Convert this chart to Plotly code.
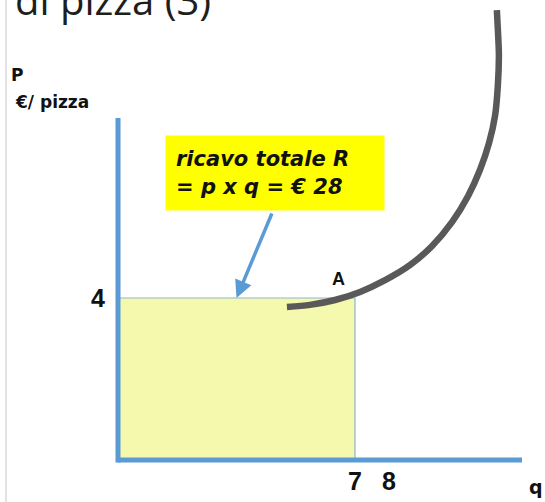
import plotly.graph_objects as go

# Price and quantity at point A
PRICE = 4
Q_SOLD = 7
REVENUE = PRICE * Q_SOLD

# Axis tick values
Q_TICKS = [7, 8]
P_TICKS = [4]

# Curve through point A (q, p)
CURVE_Q = [4.99, 5.67, 6.41, 7.15, 7.89, 8.62, 9.27, 9.87, 10.34, 10.69, 10.96, 11.14,
           11.22, 11.25, 11.22, 11.19]
CURVE_P = [3.78, 3.83, 3.95, 4.15, 4.44, 4.81, 5.28, 5.88, 6.52, 7.16, 7.83, 8.52,
           9.26, 10.00, 10.62, 11.11]

# Canvas and scale setup
W, H = 545, 502
ML, MB = 114, 38
PW, PH = W - ML, H - MB
ORIGIN_X, ORIGIN_Y = 118, 460          # pixel position of (0, 0)
Q_PX, P_PX = 33.857, 40.5              # pixels per unit
Q_AXIS_END = (522 - ORIGIN_X) / Q_PX
P_AXIS_END = (ORIGIN_Y - 118) / P_PX

x_range = [(ML - ORIGIN_X) / Q_PX, (W - ORIGIN_X) / Q_PX]
y_range = [(ORIGIN_Y - PH) / P_PX, ORIGIN_Y / P_PX]

BLUE = "#5b9bd5"
AXIS_FONT = "Liberation Sans, Arial, sans-serif"


def fx(px):
    return (px - ML) / PW


def fy(py):
    return (PH - py) / PH


fig = go.Figure()

# Total revenue rectangle p x q
fig.add_trace(go.Scatter(
    x=[0, Q_SOLD, Q_SOLD, 0, 0],
    y=[0, 0, PRICE, PRICE, 0],
    mode="lines", fill="toself",
    fillcolor="#f5f9ad",
    line=dict(color="#8fb3d6", width=1.2),
    hoverinfo="skip", showlegend=False,
))

# Curve
fig.add_trace(go.Scatter(
    x=CURVE_Q, y=CURVE_P,
    mode="lines", line=dict(color="#595959", width=6.5, shape="spline", smoothing=0.8),
    hoverinfo="skip", showlegend=False,
))

shapes = [
    # slide edge
    dict(type="line", xref="paper", yref="paper", x0=fx(6), x1=fx(6), y0=fy(0), y1=fy(H),
         line=dict(color="#e2e2e2", width=2)),
    # axes
    dict(type="line", xref="x", yref="y", x0=0, x1=0, y0=-2.5 / P_PX, y1=P_AXIS_END,
         line=dict(color=BLUE, width=5)),
    dict(type="line", xref="x", yref="y", x0=0, x1=Q_AXIS_END, y0=0, y1=0,
         line=dict(color=BLUE, width=5)),
]

annotations = [
    dict(xref="paper", yref="paper", x=fx(13), y=fy(14), xanchor="left", yanchor="bottom",
         text="di pizza (3)", showarrow=False, yshift=-15,
         font=dict(family="Open Sans, sans-serif", size=40, color="#1e1e1e")),
    dict(xref="paper", yref="paper", x=fx(9), y=fy(75), xanchor="left", yanchor="middle",
         text="P", showarrow=False,
         font=dict(family="DejaVu Sans, sans-serif", size=17, color="#111111", weight="bold")),
    dict(xref="paper", yref="paper", x=fx(13), y=fy(102), xanchor="left", yanchor="middle",
         text="€/ pizza", showarrow=False,
         font=dict(family="DejaVu Sans, sans-serif", size=17, color="#111111", weight="bold")),
    dict(xref="paper", yref="paper", x=fx(536), y=fy(487), xanchor="center", yanchor="middle",
         text="q", showarrow=False,
         font=dict(family="DejaVu Sans, sans-serif", size=19, color="#111111", weight="bold")),
    # point A
    dict(x=Q_SOLD, y=PRICE, xshift=-17, yshift=19, xanchor="center", yanchor="middle",
         text="A", showarrow=False,
         font=dict(family=AXIS_FONT, size=18, color="#111111", weight="bold")),
    # revenue callout
    dict(xref="paper", yref="paper", x=fx(165), y=fy(135), xanchor="left", yanchor="top",
         text=f"ricavo totale R<br>= p x q = € {REVENUE}", showarrow=False,
         align="left", valign="middle", width=198, height=54, borderpad=10,
         bgcolor="#ffff00",
         font=dict(family="DejaVu Sans, sans-serif", size=21, color="#111111",
                   weight="bold", style="italic")),
    # arrow to the top of the rectangle
    dict(x=Q_SOLD / 2, y=PRICE, ax=36, ay=-86, text="", showarrow=True,
         arrowhead=2, arrowsize=1, arrowwidth=3.5, arrowcolor=BLUE, standoff=0),
]

fig.update_layout(
    width=W, height=H,
    margin=dict(l=ML, r=0, t=0, b=MB, pad=0),
    paper_bgcolor="white", plot_bgcolor="white",
    showlegend=False,
    shapes=shapes, annotations=annotations,
    xaxis=dict(range=x_range, showgrid=False, zeroline=False, showline=False,
               tickvals=Q_TICKS, ticks="", ticklabelstandoff=0,
               tickfont=dict(family=AXIS_FONT, size=25, color="#111111", weight="bold")),
    yaxis=dict(range=y_range, showgrid=False, zeroline=False, showline=False,
               tickvals=P_TICKS, ticks="", ticklabelstandoff=8,
               tickfont=dict(family=AXIS_FONT, size=25, color="#111111", weight="bold")),
)

fig.write_html("out.html")
